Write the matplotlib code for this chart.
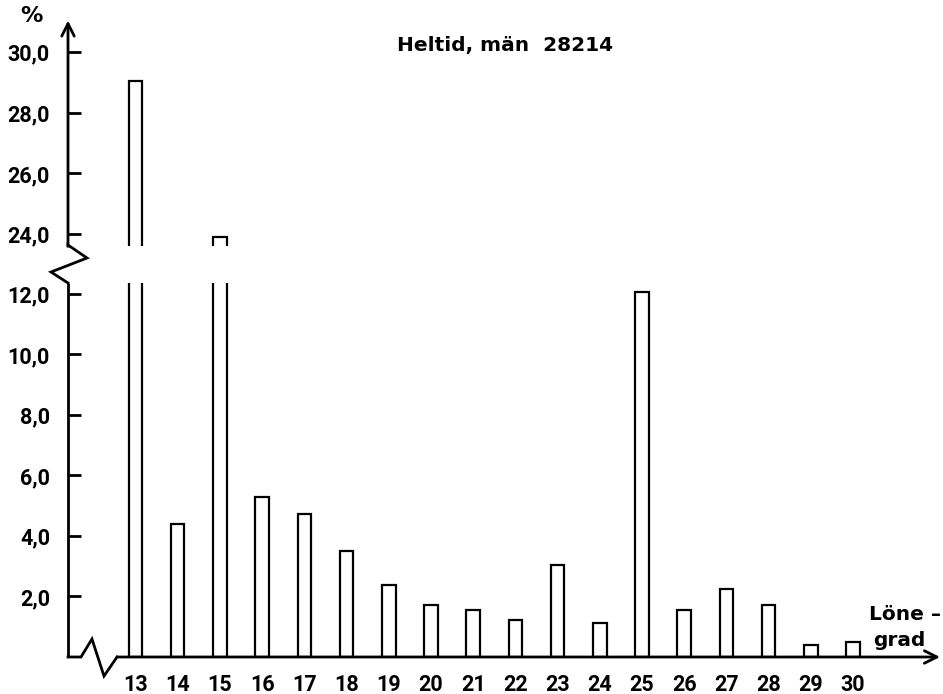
import matplotlib
matplotlib.use("Agg")
import matplotlib.pyplot as plt
from matplotlib.lines import Line2D

plt.rcParams['font.family'] = ['Roboto', 'DejaVu Sans']
plt.rcParams['font.weight'] = 'bold'

grades = list(range(13, 31))
percent = [29.06, 4.40, 23.9, 5.30, 4.72, 3.50, 2.38, 1.72, 1.54, 1.22,
           3.03, 1.11, 12.05, 1.55, 2.24, 1.72, 0.40, 0.51]
low_ticks = [2, 4, 6, 8, 10, 12]
high_ticks = [24, 26, 28, 30]
title = "Heltid, män  28214"

W, H = 943, 694
fig = plt.figure(figsize=(W / 100, H / 100), dpi=100)

def fx(px):
    return px / W

def fy(py):
    return 1 - py / H

left, right = 68, 940
ax_lo = fig.add_axes([fx(left), fy(657), fx(right - left), (657 - 283) / H])
ax_hi = fig.add_axes([fx(left), fy(246), fx(right - left), (246 - 20.5) / H])

lw_axis = 2.0
bar_w = 0.32
for ax in (ax_lo, ax_hi):
    ax.bar(grades, percent, width=bar_w, facecolor='white', edgecolor='black',
           linewidth=1.6, zorder=2)
    ax.set_xlim(11.4, 32.06)
    for s in ('top', 'right', 'bottom', 'left'):
        ax.spines[s].set_visible(False)
    ax.set_facecolor('none')

ax_lo.set_ylim(0, 12.36)
ax_hi.set_ylim(23.6, 31.05)

ax_lo.set_yticks(low_ticks)
ax_lo.set_yticklabels([f"{v:.1f}".replace('.', ',') for v in low_ticks])
ax_hi.set_yticks(high_ticks)
ax_hi.set_yticklabels([f"{v:.1f}".replace('.', ',') for v in high_ticks])
for ax in (ax_lo, ax_hi):
    ax.tick_params(axis='y', direction='in', length=9.5, width=2, pad=13,
                   labelsize=15.5)

ax_lo.set_xticks(grades)
ax_lo.set_xticklabels([str(g) for g in grades])
ax_lo.tick_params(axis='x', length=0, pad=12, labelsize=15.5)
ax_hi.set_xticks([])

# y axis line in lower part
ax_lo.plot([0, 0], [0, 1], transform=ax_lo.transAxes, color='black',
           lw=lw_axis, clip_on=False, solid_capstyle='butt')
# baseline with zigzag
zx = [0, 0.0149, 0.0275, 0.0413, 0.0562]
zy = [0, 0, 0.048, -0.051, 0]
ax_lo.plot(zx, zy, transform=ax_lo.transAxes, color='black', lw=lw_axis,
           clip_on=False, solid_joinstyle='miter')
ax_lo.annotate('', xy=(1.0, 0), xytext=(0.0562, 0), xycoords='axes fraction',
               textcoords='axes fraction',
               arrowprops=dict(arrowstyle='->,head_length=0.9,head_width=0.45',
                               lw=lw_axis, color='black', shrinkA=0, shrinkB=0))
# upper y axis with arrow
ax_hi.annotate('', xy=(0, 1.0), xytext=(0, 0), xycoords='axes fraction',
               textcoords='axes fraction',
               arrowprops=dict(arrowstyle='->,head_length=0.9,head_width=0.45',
                               lw=lw_axis, color='black', shrinkA=0, shrinkB=0))
# break zigzag between the two axes
bx = [68, 68, 87, 51, 68]
by = [246, 245, 258, 272, 283]
fig.add_artist(Line2D([fx(x) for x in bx], [fy(y) for y in by],
                      transform=fig.transFigure, color='black', lw=lw_axis,
                      solid_joinstyle='miter'))

wide = ['DejaVu Sans']
fig.text(fx(505), fy(45), title, ha='center', va='center', fontsize=14.5,
         fontweight='bold', family=wide)
fig.text(fx(31), fy(16), '%', ha='center', va='center', fontsize=16,
         fontweight='bold', family=wide)
fig.text(fx(869), fy(615), 'Löne –', ha='left', va='center', fontsize=14.5,
         fontweight='bold', family=wide)
fig.text(fx(873), fy(640), 'grad', ha='left', va='center', fontsize=14.5,
         fontweight='bold', family=wide)

fig.savefig('out.png', dpi=100)
